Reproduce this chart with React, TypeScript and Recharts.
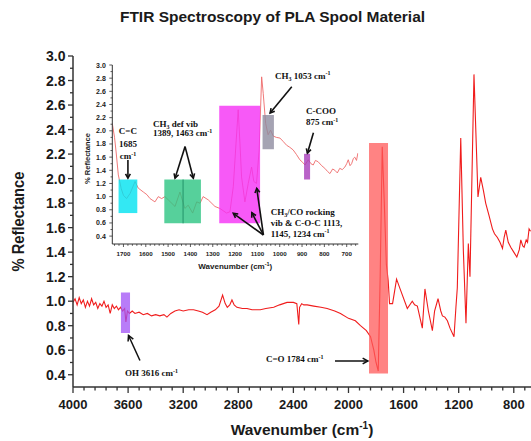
import React from 'react';
import { LineChart, Line, XAxis, YAxis, ReferenceArea, ReferenceLine, ReferenceDot } from 'recharts';

const SANS = '"Liberation Sans", Arial, Helvetica, sans-serif';
const SERIF = '"Liberation Serif", "Times New Roman", serif';

// ---------- Main spectrum ----------
const mainWavenumber = [
  4000, 3985, 3970, 3955, 3940, 3925, 3910, 3895, 3880, 3865, 3850, 3835, 3820, 3805, 3790, 3775,
  3760, 3745, 3730, 3715, 3700, 3685, 3670, 3655, 3640, 3625, 3616, 3605, 3590, 3570, 3550, 3520,
  3490, 3460, 3430, 3400, 3370, 3340, 3318, 3290, 3260, 3230, 3200, 3160, 3125, 3090, 3060, 3027,
  3000, 2967, 2940, 2914, 2895, 2880, 2862, 2846, 2830, 2810, 2770, 2737, 2700, 2640, 2600, 2543,
  2500, 2446, 2400, 2375, 2361, 2355, 2340, 2325, 2300, 2252, 2200, 2155, 2100, 2058, 2000, 1950,
  1913, 1870, 1840, 1816, 1800, 1784, 1770, 1755, 1740, 1725, 1712, 1702, 1680, 1651, 1622, 1573,
  1537, 1520, 1500, 1464, 1445, 1420, 1391, 1375, 1350, 1330, 1318, 1300, 1282, 1263, 1234, 1220,
  1210, 1185, 1166, 1147, 1130, 1118, 1089, 1070, 1060, 1040, 1020, 1004, 980, 955, 940, 919,
  900, 882, 870, 858, 840, 822, 800, 778, 760, 749, 735, 725, 710, 700, 689, 678,
];
const mainReflectance = [
  0.99, 1.02, 0.97, 1.03, 0.98, 1.01, 0.95, 1.0, 0.96, 1.02, 0.97, 0.99, 0.94, 0.98, 0.96, 1.0,
  0.95, 0.97, 0.9, 0.97, 0.94, 0.96, 0.93, 0.95, 0.92, 0.94, 0.83, 0.92, 0.9, 0.92, 0.9, 0.91,
  0.89, 0.9, 0.88, 0.89, 0.88, 0.89, 0.87, 0.9, 0.92, 0.93, 0.92, 0.93, 0.93, 0.92, 0.91, 0.89,
  0.91, 0.93, 0.96, 1.05, 0.98, 0.95, 0.97, 1.01, 0.97, 0.95, 0.94, 0.94, 0.93, 0.93, 0.94, 0.95,
  0.97, 0.99, 0.99, 0.98, 0.81, 0.95, 0.98, 0.97, 0.97, 0.96, 0.95, 0.94, 0.92, 0.9, 0.86, 0.84,
  0.8, 0.76, 0.71, 0.6, 0.5, 0.43, 1.2, 2.26, 1.8, 1.3, 1.17, 0.98, 0.98, 1.18, 1.09, 0.94,
  1.0, 0.97, 0.96, 0.78, 1.1, 0.92, 0.76, 0.92, 1.02, 0.92, 0.88, 0.87, 0.84, 0.78, 0.71, 0.95,
  1.11, 2.33, 1.41, 0.82, 1.47, 1.2, 2.85, 2.2, 1.85, 2.01, 1.9, 1.8, 1.7, 1.59, 1.55, 1.52,
  1.48, 1.43, 1.52, 1.58, 1.48, 1.44, 1.4, 1.36, 1.42, 1.5, 1.45, 1.44, 1.5, 1.48, 1.59, 1.57,
];

// ---------- Inset spectrum ----------
const insetWavenumber = [
  1750, 1740, 1733, 1723, 1710, 1700, 1686, 1670, 1648, 1634, 1611, 1595, 1581, 1559, 1544, 1529,
  1514, 1499, 1469, 1447, 1425, 1410, 1390, 1372, 1357, 1343, 1320, 1290, 1268, 1238, 1223, 1208,
  1196, 1186, 1178, 1171, 1156, 1141, 1126, 1116, 1104, 1092, 1081, 1074, 1063, 1052, 1041, 1029,
  1015, 999, 985, 969, 955, 940, 925, 910, 897, 887, 872, 860, 850, 840, 828, 812,
  798, 785, 775, 763, 753, 742, 731, 720, 708, 700, 693, 685, 678, 670, 664, 656, 650,
];
const insetReflectance = [
  2.11, 1.9, 1.68, 1.33, 1.12, 1.02, 0.97, 1.05, 1.23, 1.13, 1.07, 1.03, 0.97, 0.92, 1.0, 0.97,
  1.0, 0.95, 0.85, 1.07, 0.82, 0.87, 0.75, 0.92, 0.9, 1.0, 0.95, 0.85, 0.82, 0.75, 0.77, 1.15,
  1.8, 2.32, 1.8, 1.3, 0.92, 1.2, 1.45, 1.23, 1.2, 1.71, 2.82, 2.57, 2.11, 1.94, 2.01, 1.92,
  1.9, 1.89, 1.84, 1.78, 1.75, 1.71, 1.64, 1.56, 1.52, 1.48, 1.56, 1.5, 1.48, 1.55, 1.53, 1.47,
  1.43, 1.38, 1.35, 1.42, 1.4, 1.36, 1.43, 1.41, 1.45, 1.5, 1.56, 1.47, 1.5, 1.58, 1.6, 1.55, 1.66,
];

// ---------- Tick labels ----------
const mainXMajorTicks = [4000, 3600, 3200, 2800, 2400, 2000, 1600, 1200, 800];
const mainYMajorTicks = [0.4, 0.6, 0.8, 1.0, 1.2, 1.4, 1.6, 1.8, 2.0, 2.2, 2.4, 2.6, 2.8, 3.0];
const insetXMajorTicks = [1700, 1600, 1500, 1400, 1300, 1200, 1100, 1000, 900, 800, 700];
const insetYMajorTicks = [0.4, 0.6, 0.8, 1.0, 1.2, 1.4, 1.6, 1.8, 2.0, 2.2, 2.4, 2.6, 2.8, 3.0];

const mainData = mainWavenumber.map((w, i) => ({ w, v: mainReflectance[i] }));
const insetData = insetWavenumber.map((w, i) => ({ w, v: insetReflectance[i] }));

const stepTicks = (from: number, to: number, step: number) => {
  const out: number[] = [];
  for (let t = from; step > 0 ? t <= to + 1e-9 : t >= to - 1e-9; t += step) out.push(Math.round(t * 100) / 100);
  return out;
};
const mainXTicks = stepTicks(4000, 700, -80);
const mainYTicks = stepTicks(0.4, 3.0, 0.1);
const insetXTicks = stepTicks(1740, 660, -20);
const insetYTicks = stepTicks(0.4, 3.0, 0.1);

const isIn = (arr: number[], v: number) => arr.some((m) => Math.abs(m - v) < 1e-6);

const makeXTick = (majors: number[], majorLen: number, minorLen: number, labelOff: number, fs: number, sw: number) =>
  (p: any) => {
    const { x, y, payload } = p;
    const major = isIn(majors, payload.value);
    return (
      <g>
        <line x1={x} x2={x} y1={y} y2={y + (major ? majorLen : minorLen)} stroke="#333" strokeWidth={sw} />
        {major && (
          <text x={x} y={y + labelOff} textAnchor="middle" dominantBaseline="central" fontFamily={SANS}
            fontWeight="bold" fontSize={fs} fill="#1a1a1a">{payload.value}</text>
        )}
      </g>
    );
  };

const makeYTick = (majors: number[], majorLen: number, minorLen: number, labelOff: number, fs: number, sw: number) =>
  (p: any) => {
    const { x, y, payload } = p;
    const major = isIn(majors, payload.value);
    return (
      <g>
        <line x1={x - (major ? majorLen : minorLen)} x2={x} y1={y} y2={y} stroke="#333" strokeWidth={sw} />
        {major && (
          <text x={x - labelOff} y={y} textAnchor="end" dominantBaseline="central" fontFamily={SANS}
            fontWeight="bold" fontSize={fs} fill="#1a1a1a">{Number(payload.value).toFixed(1)}</text>
        )}
      </g>
    );
  };

const arrowShape = (sw: number, head: number) => (p: any) => {
  const { x1, y1, x2, y2 } = p;
  const ang = Math.atan2(y2 - y1, x2 - x1);
  const a = 0.5;
  const hx1 = x2 - head * Math.cos(ang - a);
  const hy1 = y2 - head * Math.sin(ang - a);
  const hx2 = x2 - head * Math.cos(ang + a);
  const hy2 = y2 - head * Math.sin(ang + a);
  return (
    <g>
      <line x1={x1} y1={y1} x2={x2} y2={y2} stroke="#111" strokeWidth={sw} />
      <polyline points={`${hx1},${hy1} ${x2},${y2} ${hx2},${hy2}`} fill="none" stroke="#111" strokeWidth={sw} />
    </g>
  );
};

const sup = (t: string) => <tspan dy={-3.5} fontSize={6}>{t}</tspan>;

const textShape = (lines: React.ReactNode[], anchor: 'start' | 'middle' = 'start', fs = 9, lh = 11) => (p: any) => (
  <text x={p.cx} y={p.cy} textAnchor={anchor} fontFamily={SERIF} fontWeight="bold" fontSize={fs} fill="#111">
    {lines.map((ln, i) => (
      <tspan key={i} x={p.cx} dy={i === 0 ? 0 : lh}>{ln}</tspan>
    ))}
  </text>
);

const ch3 = (rest: string) => (
  <>CH<tspan dy={2} fontSize={6}>3</tspan><tspan dy={-2}>{rest}</tspan></>
);

export default function App() {
  return (
    <div style={{ position: 'absolute', left: 0, top: 0, width: 531, height: 441, background: '#fff', overflow: 'hidden' }}>
      <div style={{ position: 'absolute', left: 0, top: 8, width: 545, textAlign: 'center', fontFamily: SANS,
        fontWeight: 'bold', fontSize: 15.5, lineHeight: '18px', color: '#1a1a1a' }}>
        FTIR Spectroscopy of PLA Spool Material
      </div>
      <div style={{ position: 'absolute', left: 0, top: 0 }}>
        <LineChart width={531} height={441} data={mainData} margin={{ top: 56, right: 0, bottom: 0, left: 0 }}>
          <XAxis type="number" dataKey="w" domain={[675, 4000]} reversed ticks={mainXTicks} interval={0}
            tick={makeXTick(mainXMajorTicks, 6, 3.5, 17, 13, 1.3)} tickLine={false} tickSize={0} tickMargin={0}
            axisLine={{ stroke: '#333', strokeWidth: 1.5 }} height={54} allowDataOverflow
            label={(p: any) => {
              const vb = p.viewBox;
              return (
                <text x={vb.x + vb.width / 2} y={vb.y + 48} textAnchor="middle" fontFamily={SANS} fontWeight="bold"
                  fontSize={15.5} fill="#1a1a1a">Wavenumber (cm<tspan dy={-6} fontSize={10}>-1</tspan><tspan dy={6}>)</tspan></text>
              );
            }} />
          <YAxis type="number" domain={[0.3, 3.0]} ticks={mainYTicks} interval={0} width={73}
            tick={makeYTick(mainYMajorTicks, 5, 3, 7.5, 14, 1.3)} tickLine={false} tickSize={0} tickMargin={0}
            axisLine={{ stroke: '#333', strokeWidth: 1.5 }} allowDataOverflow
            label={(p: any) => {
              const vb = p.viewBox;
              const cx = vb.x + 18;
              const cy = vb.y + vb.height / 2;
              return (
                <text x={cx} y={cy} transform={`rotate(-90 ${cx} ${cy})`} textAnchor="middle" dominantBaseline="central"
                  fontFamily={SANS} fontWeight="bold" fontSize={17} fill="#1a1a1a" textLength={100}
                  lengthAdjust="spacingAndGlyphs">% Reflectance</text>
              );
            }} />
          <Line type="linear" dataKey="v" stroke="#f01c1c" strokeWidth={1.1} dot={false} isAnimationActive={false} />
          <ReferenceArea x1={3652} x2={3586} y1={0.74} y2={1.07} fill="#a050f5" fillOpacity={0.75} stroke="none" zIndex={450} />
          <ReferenceArea x1={1851} x2={1713} y1={0.41} y2={2.29} fill="#ff5a5a" fillOpacity={0.75} stroke="none" zIndex={450} />
          <ReferenceLine segment={[{ x: 3514, y: 0.516 }, { x: 3597, y: 0.72 }]} shape={arrowShape(1.5, 6)} zIndex={460} />
          <ReferenceLine segment={[{ x: 2098, y: 0.512 }, { x: 1859, y: 0.512 }]} shape={arrowShape(1.5, 6)} zIndex={460} />
          <ReferenceDot x={3623} y={0.386} r={0} shape={textShape([<>OH 3616 cm{sup('-1')}</>])} zIndex={470} />
          <ReferenceDot x={2599} y={0.5} r={0} shape={textShape([<>C=O 1784 cm{sup('-1')}</>])} zIndex={470} />
        </LineChart>
      </div>
      <div style={{ position: 'absolute', left: 80, top: 55 }}>
        <LineChart width={290} height={220} data={insetData} margin={{ top: 10, right: 11.7, bottom: 0, left: 0 }}>
          <XAxis type="number" dataKey="w" domain={[648, 1750]} reversed ticks={insetXTicks} interval={0}
            tick={makeXTick(insetXMajorTicks, 3, 1.8, 9.5, 6.2, 0.8)} tickLine={false} tickSize={0} tickMargin={0}
            axisLine={{ stroke: '#333', strokeWidth: 1 }} height={31} allowDataOverflow
            label={(p: any) => {
              const vb = p.viewBox;
              return (
                <text x={vb.x + vb.width / 2} y={vb.y + 25} textAnchor="middle" fontFamily={SANS} fontWeight="bold"
                  fontSize={8} fill="#1a1a1a">Wavenumber (cm<tspan dy={-3} fontSize={5.5}>-1</tspan><tspan dy={3}>)</tspan></text>
              );
            }} />
          <YAxis type="number" domain={[0.28, 3.0]} ticks={insetYTicks} interval={0} width={32.3}
            tick={makeYTick(insetYMajorTicks, 3, 1.8, 6.5, 7, 0.8)} tickLine={false} tickSize={0} tickMargin={0}
            axisLine={{ stroke: '#333', strokeWidth: 1 }} allowDataOverflow
            label={(p: any) => {
              const vb = p.viewBox;
              const cx = vb.x + 7;
              const cy = vb.y + vb.height / 2 + 4;
              return (
                <text x={cx} y={cy} transform={`rotate(-90 ${cx} ${cy})`} textAnchor="middle" dominantBaseline="central"
                  fontFamily={SANS} fontWeight="bold" fontSize={7.5} fill="#1a1a1a">% Reflectance</text>
              );
            }} />
          <Line type="linear" dataKey="v" stroke="#ee6a6a" strokeWidth={0.9} dot={false} isAnimationActive={false} />
          <ReferenceArea x1={1722} x2={1638} y1={0.75} y2={1.26} fill="#00e2f0" fillOpacity={0.8} stroke="none" zIndex={450} />
          <ReferenceArea x1={1517} x2={1353} y1={0.594} y2={1.26} fill="#2cc482" fillOpacity={0.8} stroke="none" zIndex={450} />
          <ReferenceArea x1={1271} x2={1088} y1={0.594} y2={2.38} fill="#f530f5" fillOpacity={0.8} stroke="none" zIndex={450} />
          <ReferenceArea x1={1077} x2={1026} y1={1.72} y2={2.24} fill="#8e8ca0" fillOpacity={0.8} stroke="none" zIndex={450} />
          <ReferenceArea x1={891} x2={864} y1={1.26} y2={1.65} fill="#a83cba" fillOpacity={0.8} stroke="none" zIndex={450} />
          <ReferenceLine segment={[{ x: 1433, y: 0.594 }, { x: 1433, y: 1.26 }]} stroke="#23946a" strokeWidth={1} zIndex={455} />
          <ReferenceLine segment={[{ x: 1680, y: 1.556 }, { x: 1680, y: 1.28 }]} shape={arrowShape(1.6, 5)} zIndex={460} />
          <ReferenceLine segment={[{ x: 1424, y: 1.76 }, { x: 1469, y: 1.28 }]} shape={arrowShape(1.6, 5)} zIndex={460} />
          <ReferenceLine segment={[{ x: 1424, y: 1.76 }, { x: 1387, y: 1.28 }]} shape={arrowShape(1.6, 5)} zIndex={460} />
          <ReferenceLine segment={[{ x: 946, y: 2.67 }, { x: 1043, y: 2.27 }]} shape={arrowShape(1.6, 5)} zIndex={460} />
          <ReferenceLine segment={[{ x: 849, y: 1.97 }, { x: 876, y: 1.66 }]} shape={arrowShape(1.6, 5)} zIndex={460} />
          <ReferenceLine segment={[{ x: 1073, y: 0.417 }, { x: 1208, y: 0.746 }]} shape={arrowShape(1.6, 5)} zIndex={460} />
          <ReferenceLine segment={[{ x: 1073, y: 0.417 }, { x: 1125, y: 0.755 }]} shape={arrowShape(1.6, 5)} zIndex={460} />
          <ReferenceLine segment={[{ x: 1073, y: 0.417 }, { x: 1103, y: 1.126 }]} shape={arrowShape(1.6, 5)} zIndex={460} />
          <ReferenceDot x={1680} y={1.95} r={0} shape={textShape(['C=C', '1685', <>cm{sup('-1')}</>], 'middle', 9, 12.5)} zIndex={470} />
          <ReferenceDot x={1568} y={2.06} r={0} shape={textShape([ch3(' def vib'), <>1389, 1463 cm{sup('-1')}</>], 'start', 9, 9.5)} zIndex={470} />
          <ReferenceDot x={1021} y={2.79} r={0} shape={textShape([<>{ch3(' 1053 cm')}{sup('-1')}</>])} zIndex={470} />
          <ReferenceDot x={882} y={2.25} r={0} shape={textShape(['C-COO', <>875 cm{sup('-1')}</>], 'start', 9, 11)} zIndex={470} />
          <ReferenceDot x={1040} y={0.72} r={0}
            shape={textShape([<>CH<tspan dy={2} fontSize={6}>3</tspan><tspan dy={-2}>/CO  rocking</tspan></>, 'vib & C-O-C 1113,', <>1145, 1234 cm{sup('-1')}</>], 'start', 9, 10.8)} zIndex={470} />
        </LineChart>
      </div>
    </div>
  );
}
